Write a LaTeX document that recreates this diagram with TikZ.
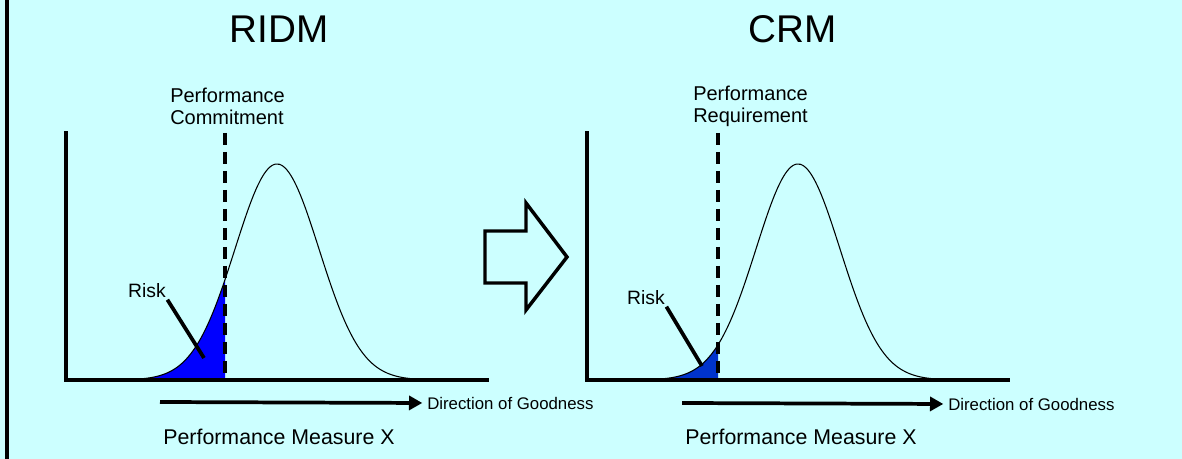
\documentclass[tikz,border=0pt]{standalone}
\usepackage{fontspec}
\setmainfont{Liberation Sans}
\usepackage{tikz}
\usepackage{xcolor}
\usetikzlibrary{arrows.meta}
\definecolor{panelcyan}{HTML}{CCFFFF}
\definecolor{crmblue}{RGB}{0,51,204}
\tikzset{
    axis-line/.style = {line width=2.8pt, line cap=rect},
    bound-line/.style = {line width=2.8pt, dash pattern=on 9pt off 5.25pt},
    bell-curve/.style = {line width=0.8pt, smooth, samples=80},
    leader-line/.style = {line width=2.8pt},
    goodness-arrow/.style = {line width=2.8pt, shorten >=3.5pt, -{Triangle[length=10pt,width=10.5pt]}},
    chart-title/.style = {font=\fontsize{29}{34}\selectfont, inner sep=0pt},
    bound-label/.style = {font=\fontsize{15}{16.5}\selectfont, align=left, anchor=west, inner sep=0pt},
    risk-label/.style = {font=\fontsize{14.5}{17}\selectfont, inner sep=1pt},
    goodness-label/.style = {font=\fontsize{12.6}{15}\selectfont, anchor=west, inner sep=0pt},
    measure-label/.style = {font=\fontsize{16}{19}\selectfont, inner sep=0pt},
}

\begin{document}
\begin{tikzpicture}[x=0.75pt, y=-0.75pt]
\fill[panelcyan] (0,0) rectangle (1182,459);
\useasboundingbox (0,0) rectangle (1182,459);
\draw[line width=2.4pt] (7,0) -- (7,459);

% RIDM panel
\node[chart-title] (ridm) at (279,29) {RIDM};
\node[bound-label] (commit) at (170,106) {Performance\\Commitment};
\fill[blue] plot[smooth, samples=40, domain=130:225] (\x,{380-216*exp(-0.5*((\x-277)/42)^2)}) -- (225,380) -- cycle;
\draw[bell-curve] plot[domain=130:425] (\x,{380-216*exp(-0.5*((\x-277)/42)^2)});
\draw[bound-line] (225,133) -- (225,380);
\coordinate (ridm-top) at (66,133);
\coordinate (ridm-origin) at (66,380);
\coordinate (ridm-end) at (487,380);
\draw[axis-line] (ridm-top) -- (ridm-origin) -- (ridm-end);
\node[risk-label] (risk-ridm) at (147,291) {Risk};
\coordinate (risk-ridm-tip) at (204,358);
\draw[leader-line] (risk-ridm.south east) -- (risk-ridm-tip);
\coordinate (good-ridm-start) at (160,402);
\node[goodness-label] (good-ridm) at (427,403) {Direction of Goodness};
\draw[goodness-arrow] (good-ridm-start) -- (good-ridm.west);
\node[measure-label] (measure-ridm) at (279,437) {Performance Measure X};

% shift arrow
\draw[line width=2.6pt, miter limit=10] (485,231) -- (526,231) -- (526,203) -- (567,257) -- (526,310) -- (526,283) -- (485,283) -- cycle;

% CRM panel
\node[chart-title] (crm) at (793,29) {CRM};
\node[bound-label] (require) at (693,106) {Performance\\Requirement};
\fill[crmblue] plot[smooth, samples=40, domain=651:718] (\x,{380-216*exp(-0.5*((\x-798)/42)^2)}) -- (718,380) -- cycle;
\draw[bell-curve] plot[domain=651:946] (\x,{380-216*exp(-0.5*((\x-798)/42)^2)});
\draw[bound-line] (718,133) -- (718,380);
\coordinate (crm-top) at (587,133);
\coordinate (crm-origin) at (587,380);
\coordinate (crm-end) at (1008,380);
\draw[axis-line] (crm-top) -- (crm-origin) -- (crm-end);
\node[risk-label] (risk-crm) at (646,298) {Risk};
\coordinate (risk-crm-tip) at (702,366);
\draw[leader-line] (risk-crm.south east) -- (risk-crm-tip);
\coordinate (good-crm-start) at (682,403);
\node[goodness-label] (good-crm) at (948,404) {Direction of Goodness};
\draw[goodness-arrow] (good-crm-start) -- (good-crm.west);
\node[measure-label] (measure-crm) at (801,437) {Performance Measure X};
\end{tikzpicture}
\end{document}
